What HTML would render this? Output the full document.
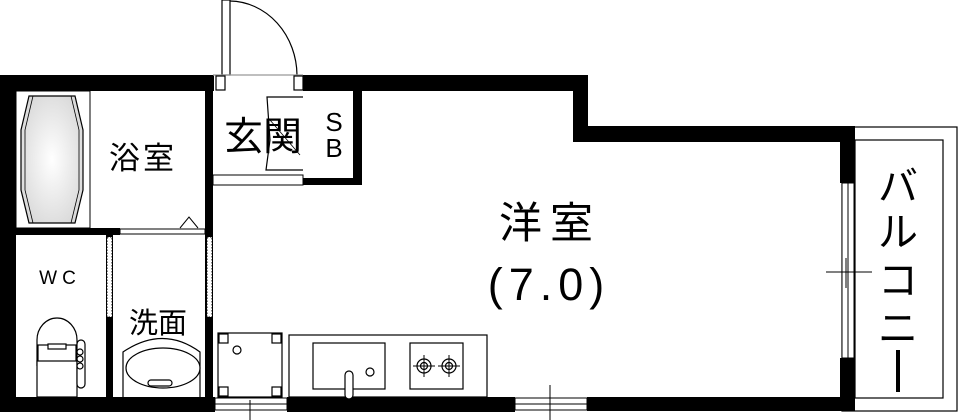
<!DOCTYPE html>
<html><head><meta charset="utf-8"><style>
html,body{margin:0;padding:0;background:#fff}
svg{display:block}
text{font-family:"Liberation Sans","Noto Sans CJK JP",sans-serif;fill:#000}
</style></head><body>
<svg width="958" height="420" viewBox="0 0 958 420" xmlns="http://www.w3.org/2000/svg">
<defs>
<radialGradient id="tub" cx="50%" cy="50%" r="60%"><stop offset="0" stop-color="#fff"/><stop offset="1" stop-color="#d8d8d8"/></radialGradient>
</defs>
<rect x="842" y="127" width="115" height="284" fill="#fff" stroke="#000" stroke-width="1.2"/>
<rect x="855" y="140" width="88" height="258" fill="#fff" stroke="#000" stroke-width="1.2"/>
<g fill="#000">
<rect x="0" y="75" width="214" height="16"/>
<rect x="0" y="75" width="16" height="337"/>
<rect x="0" y="397" width="215" height="15"/>
<rect x="287" y="397" width="228" height="15"/>
<rect x="587" y="397" width="268" height="14"/>
<rect x="303" y="75" width="285" height="16"/>
<rect x="573" y="75" width="15" height="67"/>
<rect x="573" y="126" width="282" height="16"/>
<rect x="840" y="126" width="15" height="57"/>
<rect x="840" y="358" width="15" height="53"/>
<rect x="205" y="91" width="8" height="306"/>
<rect x="353" y="91" width="9" height="94"/>
<rect x="303" y="178" width="59" height="7"/>
<rect x="16" y="228" width="104" height="7"/>
<rect x="106" y="235" width="7" height="162"/>
</g>
<g fill="#fff" stroke="#000" stroke-width="1">
<rect x="215" y="398" width="72" height="12"/>
<line x1="215" y1="404" x2="287" y2="404"/>
<rect x="515" y="398" width="72" height="12"/>
<line x1="515" y1="404" x2="587" y2="404"/>
<rect x="842" y="183" width="12" height="175"/>
<line x1="848" y1="183" x2="848" y2="358"/>
<rect x="120" y="229" width="85" height="5"/>
<rect x="213" y="175" width="90" height="10"/>
</g>
<line x1="250" y1="400" x2="250" y2="420" stroke="#000"/>
<line x1="550" y1="385" x2="550" y2="420" stroke="#000"/>
<line x1="826" y1="272" x2="872" y2="272" stroke="#000"/>
<line x1="846" y1="258" x2="846" y2="288" stroke="#000"/>
<g fill="#fff" stroke="#000" stroke-width="1">
<rect x="107" y="237" width="5" height="80" stroke-dasharray="1.5 1.5"/>
<rect x="207" y="237" width="5" height="80" stroke-dasharray="1.5 1.5"/>
</g>
<g fill="none" stroke="#000" stroke-width="1.2">
<rect x="222" y="0" width="8" height="75" fill="#fff"/>
<path d="M230 1 A68 75 0 0 1 297 75"/>
<line x1="213" y1="75" x2="303" y2="75" stroke="#999"/>
<rect x="216" y="76" width="9" height="14" fill="#fff"/>
<rect x="294" y="76" width="9" height="14" fill="#fff"/>
<path d="M303 97 L267 97 L270 140 L266 170 L303 170"/>
<line x1="270" y1="120" x2="300" y2="155" stroke-width="0.8"/>
</g>
<rect x="16" y="91" width="74" height="137" fill="#fff" stroke="#000"/>
<path d="M29 96 L75 96 L83 130 L83 190 L75 223 L29 223 L21 190 L21 130 Z" fill="url(#tub)" stroke="#000" stroke-width="1.2"/>
<path d="M33 96 L71 96 L79 130 L79 190 L71 223 L33 223 L25 190 L25 130 Z" fill="none" stroke="#000" stroke-width="0.8"/>
<path d="M180 228 L189 217 L198 228" fill="none" stroke="#000"/>
<g fill="#fff" stroke="#000" stroke-width="1.2">
<rect x="37" y="361" width="40" height="36"/>
<path d="M37 366 L37 340 A20 22 0 0 1 77 340 L77 366"/>
<rect x="38" y="345" width="38" height="16"/>
<rect x="48" y="344" width="18" height="5"/>
<rect x="77" y="340" width="8" height="48" rx="4"/>
<circle cx="80" cy="352" r="3"/><circle cx="80" cy="359" r="3"/><circle cx="80" cy="366" r="3"/>
</g>
<g fill="#fff" stroke="#000" stroke-width="1.2">
<path d="M123 397 L123 352 Q163 325 200 352 L200 397"/>
<ellipse cx="163" cy="368" rx="37" ry="20"/>
<rect x="148" y="380" width="24" height="6" rx="3"/>
</g>
<g fill="#fff" stroke="#000" stroke-width="1.2">
<rect x="218" y="333" width="64" height="64"/>
<rect x="219" y="334" width="9" height="9"/><rect x="272" y="334" width="9" height="9"/>
<rect x="219" y="387" width="9" height="9"/><rect x="272" y="387" width="9" height="9"/>
<circle cx="237" cy="350" r="4"/>
</g>
<g fill="#fff" stroke="#000" stroke-width="1.2">
<rect x="289" y="335" width="198" height="62"/>
<rect x="313" y="343" width="72" height="46"/>
<rect x="345" y="371" width="8" height="28" rx="4"/>
<circle cx="370" cy="372" r="4"/>
<rect x="410" y="343" width="53" height="46"/>
<circle cx="424" cy="366" r="7"/><circle cx="424" cy="366" r="3.5"/>
<circle cx="449" cy="366" r="7"/><circle cx="449" cy="366" r="3.5"/>
</g>
<g stroke="#000" stroke-width="1">
<line x1="413" y1="366" x2="435" y2="366"/><line x1="424" y1="355" x2="424" y2="377"/>
<line x1="438" y1="366" x2="460" y2="366"/><line x1="449" y1="355" x2="449" y2="377"/>
</g>
<text x="143" y="169" font-size="31" text-anchor="middle" letter-spacing="3">浴室</text>
<text x="263" y="150" font-size="39" text-anchor="middle">玄関</text>
<text x="334" y="131" font-size="26" text-anchor="middle">S</text>
<text x="334" y="157" font-size="26" text-anchor="middle">B</text>
<text x="60" y="284" font-size="19" text-anchor="middle" letter-spacing="5">WC</text>
<text x="158" y="333" font-size="29" text-anchor="middle">洗面</text>
<text x="550" y="238" font-size="43" text-anchor="middle" letter-spacing="8">洋室</text>
<text x="549" y="300" font-size="45" text-anchor="middle" letter-spacing="6">(7.0)</text>
<text x="898" y="200" font-size="40" text-anchor="middle">バ</text>
<text x="898" y="246" font-size="40" text-anchor="middle">ル</text>
<text x="898" y="294" font-size="40" text-anchor="middle">コ</text>
<text x="898" y="342" font-size="40" text-anchor="middle">ニ</text>
<rect x="896" y="350" width="4" height="42" fill="#000"/>
</svg>
</body></html>
